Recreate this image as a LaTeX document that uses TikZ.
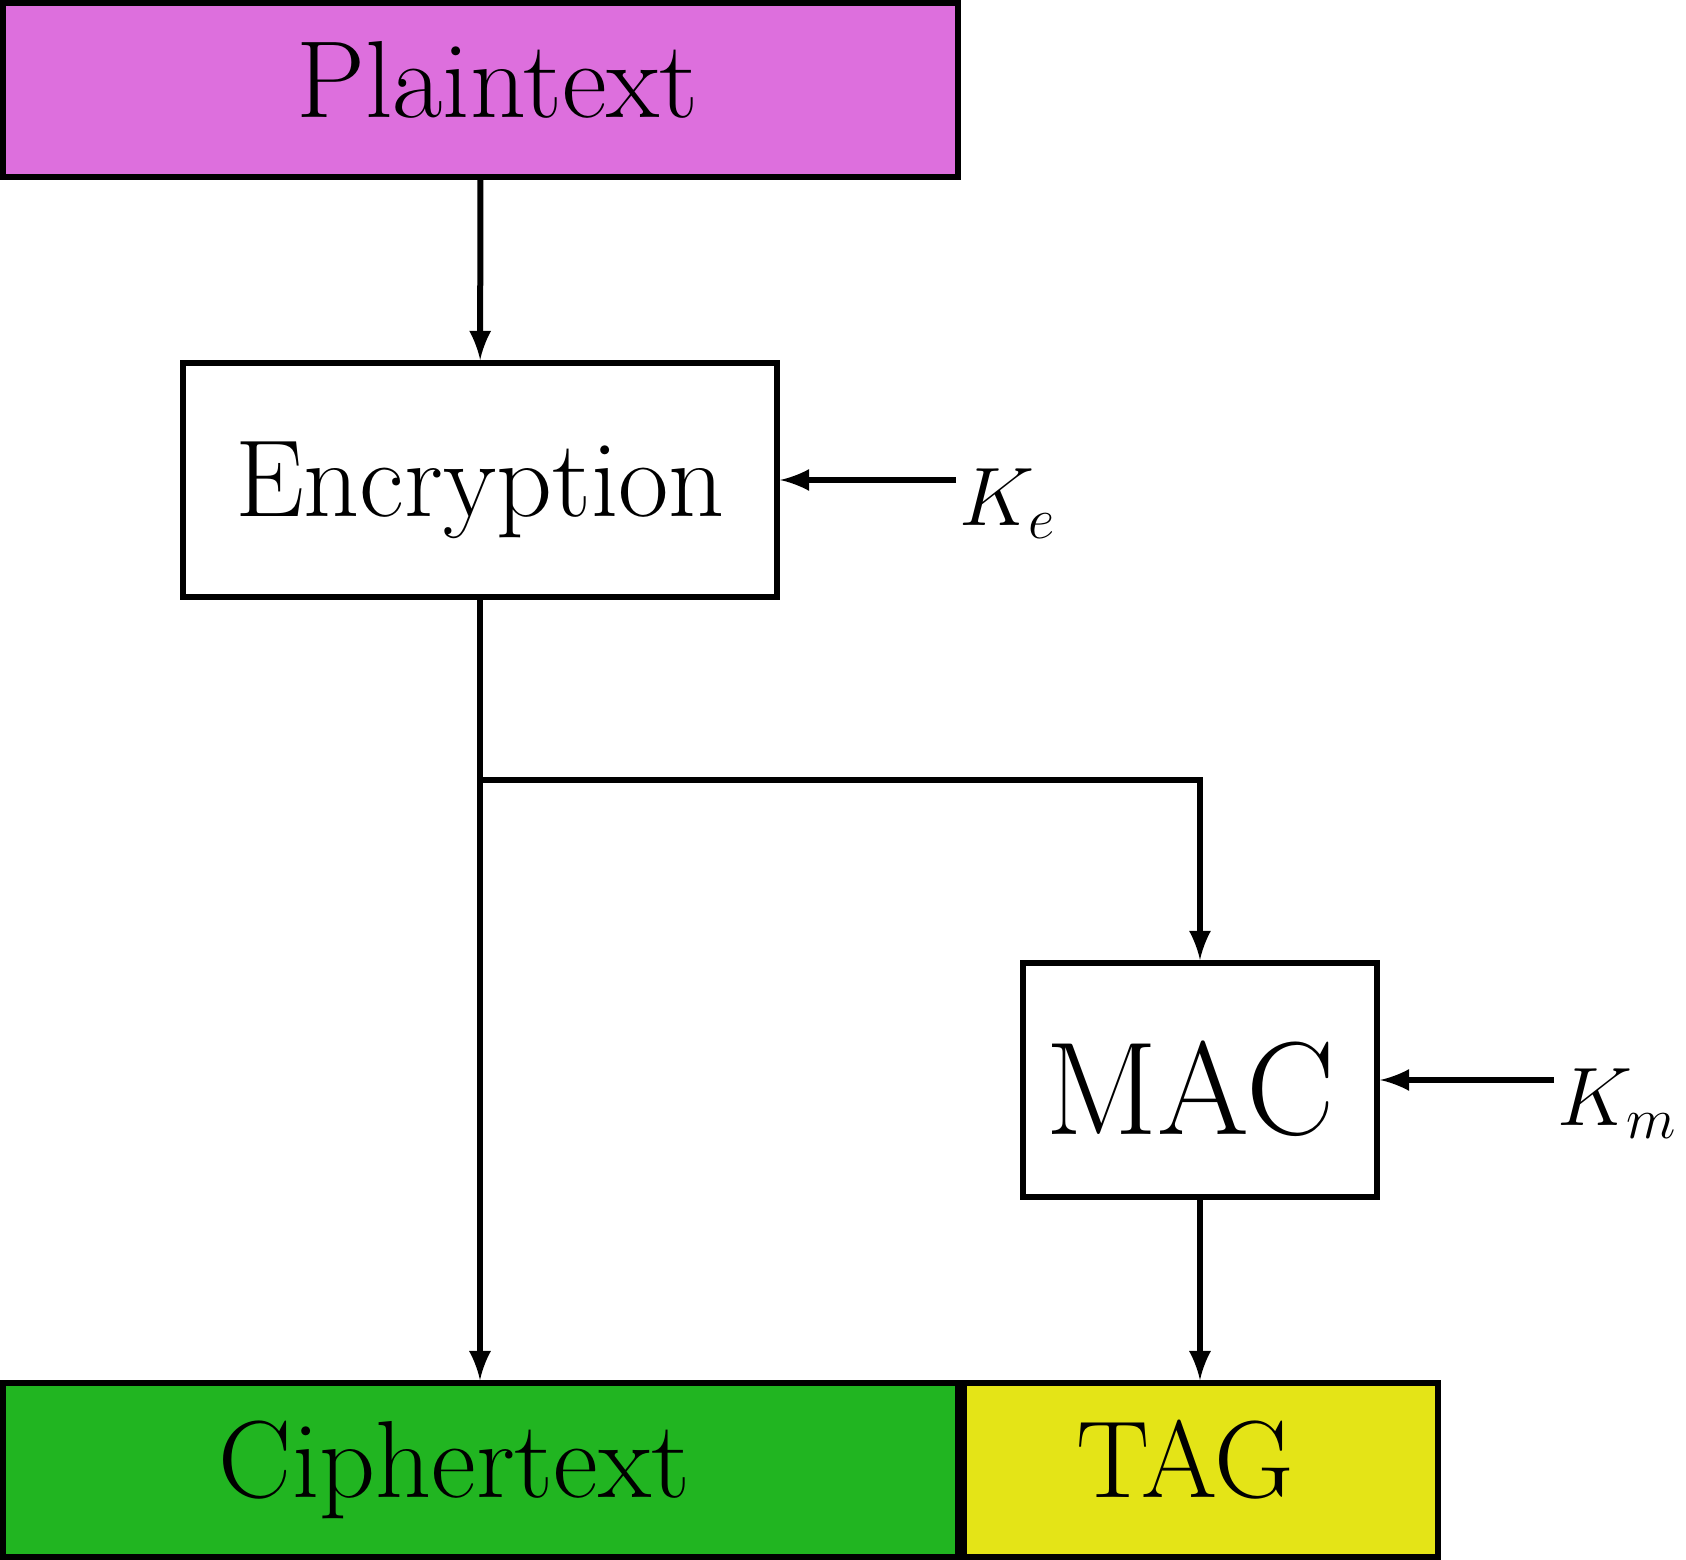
\documentclass[tikz,border=0pt]{standalone}
\usepackage{tikz}

\definecolor{plaincolor}{RGB}{221,111,221}
\definecolor{ciphercolor}{RGB}{33,181,33}
\definecolor{tagcolor}{RGB}{228,228,23}

\tikzset{
  box/.style={draw, inner sep=0pt, text depth=0pt, text height=14pt,
    font=\fontsize{27.4}{33}\selectfont},
  key/.style={inner sep=0pt, font=\fontsize{21}{26}\selectfont}
}

\begin{document}
\begin{tikzpicture}[x=0.25pt, y=-0.25pt, line width=1.5pt]
  \useasboundingbox (0,0) rectangle (1686,1560);

  \node [box, fill=plaincolor, minimum width=238.75pt, minimum height=43.5pt] (plain) at (480.5,90) {\hspace*{8.5pt}Plaintext};
  \node [box, text height=18.5pt, minimum width=148.5pt, minimum height=58.5pt] (enc) at (480,480) {Encryption};
  \node [box, text height=27.5pt, minimum width=88.5pt, minimum height=58.5pt, font=\fontsize{33.1}{40}\selectfont] (mac) at (1200,1080) {\hspace*{-5pt}MAC};

  \node [box, fill=ciphercolor, minimum width=238.75pt, minimum height=43.4pt] (cipher) at (480.5,1470) {\hspace*{-13pt}Ciphertext};
  \node [box, fill=tagcolor, minimum width=118.5pt, minimum height=43.4pt] (tag) at (1200.5,1470) {\hspace*{-7.5pt}TAG};

  \node [key, anchor=base west] (ke) at (956,526) {$K_e$};
  \node [key, anchor=base west] (km) at (1554,1126) {$K_m$};

  % Main path
  \draw [-latex] (plain) -- (enc);
  \draw [-latex] (enc.south) -- (enc.south |- cipher.north);

  % Branch to the MAC
  \coordinate (split) at (481,780);
  \draw [-latex] (enc.south |- split) -| (mac.north);
  \draw [-latex] (mac) -- (tag.north -| mac);

  % Keys
  \draw [-latex] (ke.west |- enc.east) -- (enc.east);
  \draw [-latex] (km.west |- mac.east) -- (mac.east);

\end{tikzpicture}
\end{document}
